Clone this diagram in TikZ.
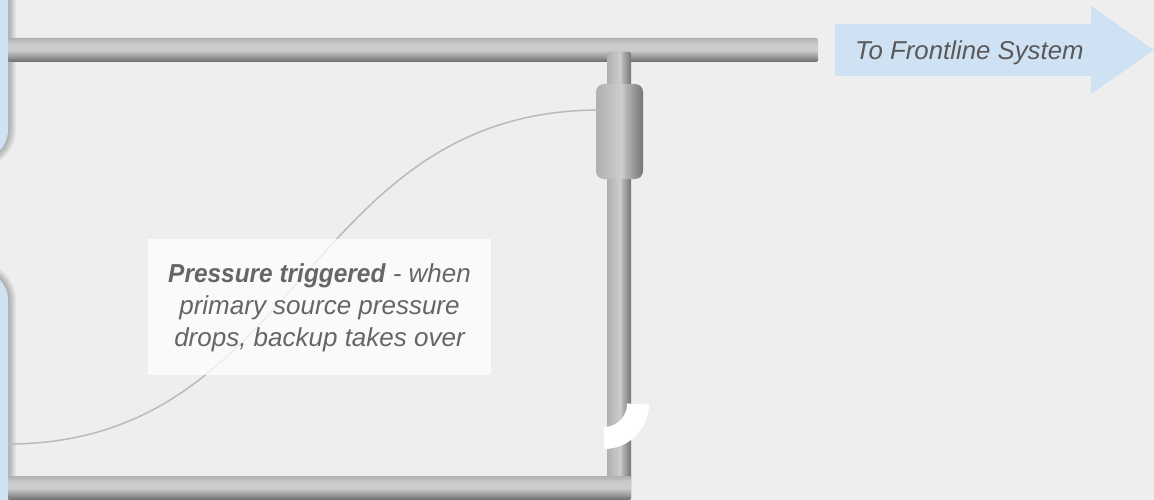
\documentclass[tikz,border=0pt]{standalone}
\usepackage{fontspec}
\setmainfont{Liberation Sans}[BoldItalicFeatures={FakeStretch=.94}]
\definecolor{bgc}{HTML}{EEEEEE}
\definecolor{bluec}{HTML}{CFE2F3}
\definecolor{txtc}{HTML}{666666}
\definecolor{arrtxt}{HTML}{595959}
\definecolor{pa}{HTML}{B0B0B0}
\definecolor{pb}{HTML}{CDCDCD}
\definecolor{pc}{HTML}{6A6A6A}
\pgfdeclareverticalshading{pipehs}{100bp}{color(0bp)=(pc);color(25bp)=(pc);color(38bp)=(pa!80!pc);color(50bp)=(pb);color(64bp)=(pb!85!pa);color(75bp)=(pa);color(100bp)=(pa)}
\pgfdeclarehorizontalshading{pipevs}{100bp}{color(0bp)=(pa);color(25bp)=(pa);color(52bp)=(pb);color(58bp)=(pa);color(68bp)=(pa!50!pc);color(75bp)=(pc!85!pa);color(100bp)=(pc!85!pa)}
\tikzset{
  pipeh/.style={shape=rectangle,rounded corners=2pt,shading=pipehs,inner sep=0pt,outer sep=0pt,minimum height=24pt,anchor=north west},
  pipev/.style={shape=rectangle,rounded corners=2pt,shading=pipevs,inner sep=0pt,outer sep=0pt,minimum width=24pt,anchor=north west},
  valvebox/.style={shape=rectangle,rounded corners=8pt,shading=pipevs,inner sep=0pt,outer sep=0pt,minimum width=47pt,minimum height=95pt,anchor=north west},
  notebox/.style={shape=rectangle,fill=white,fill opacity=.75,inner sep=0pt,minimum width=343pt,minimum height=136pt,anchor=north west},
  notetext/.style={inner sep=0pt,align=center,text=txtc,font=\fontsize{26}{32}\selectfont\itshape},
  arrowlabel/.style={inner sep=0pt,anchor=base west,text=arrtxt,font=\fontsize{25.8}{30}\selectfont\itshape},
  linkline/.style={draw=black!27,line width=1.5pt},
  sensearc/.style={draw=white,line width=22pt}
}
\begin{document}
\begin{tikzpicture}[x=1pt,y=-1pt]
\useasboundingbox (0,0) rectangle (1154,500);
\clip (0,0) rectangle (1154,500);
\fill[bgc] (0,0) rectangle (1154,500);
% source boxes, cut by the left edge, with soft shadows
\foreach \w in {2,4,...,16}{
  \draw[black,opacity=.035,line width=\w pt,rounded corners=30pt] (-60,-60) rectangle (8,160);
  \draw[black,opacity=.035,line width=\w pt,rounded corners=30pt] (-60,270) rectangle (8,560);
}
\fill[bluec,rounded corners=30pt] (-60,-60) rectangle (8,160);
\fill[bluec,rounded corners=30pt] (-60,270) rectangle (8,560);
% connection line
\coordinate (srcpt) at (8,444);
\coordinate (valvept) at (600,110);
\draw[linkline] (srcpt) .. controls (302,444) and (302,110) .. (valvept);
% pipes
\node[pipeh,minimum width=810pt] (toppipe) at (8,38) {};
\node[pipev,minimum height=448pt] (riser) at (607,52) {};
\draw[sensearc] (638,404) arc[start angle=0,end angle=90,radius=34];
\node[pipeh,minimum width=623pt] (botpipe) at (8,476) {};
\node[valvebox] (valve) at (596,84) {};
\draw[linkline,opacity=.5] (596,109.5) -- (valvept);
% note
\node[notebox] (note) at (148,239) {};
\node[notetext] (notelabel) at (319.5,308) {\textbf{Pressure triggered} - when\\primary source pressure\\drops, backup takes over};
% arrow
\fill[bluec] (835,24) -- (1091,24) -- (1091,6) -- (1154,50) -- (1091,94) -- (1091,76) -- (835,76) -- cycle;
\node[arrowlabel] (arrowtext) at (855,60) {To Frontline System};
\end{tikzpicture}
\end{document}
